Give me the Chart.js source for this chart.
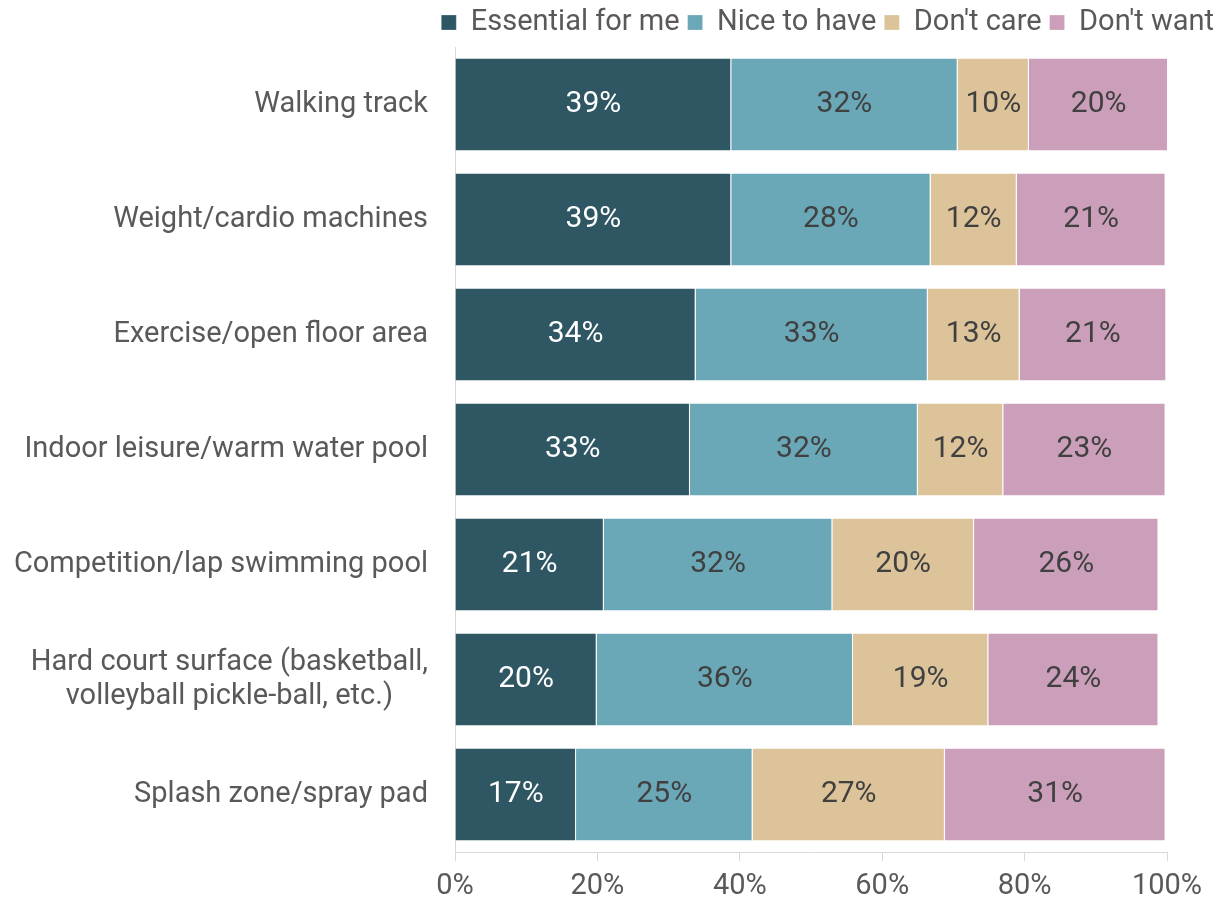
<!DOCTYPE html>
<html>
<head>
<meta charset="utf-8">
<script src="https://cdn.jsdelivr.net/npm/chart.js@4.4.1/dist/chart.umd.min.js"></script>
<style>
  html, body { margin: 0; padding: 0; background: #fff; }
</style>
</head>
<body>
<canvas id="chart" width="1222" height="904"></canvas>
<script>
const categories = [
  'Walking track',
  'Weight/cardio machines',
  'Exercise/open floor area',
  'Indoor leisure/warm water pool',
  'Competition/lap swimming pool',
  ['Hard court surface (basketball,', 'volleyball pickle-ball, etc.)'],
  'Splash zone/spray pad'
];
const seriesNames = ['Essential for me', 'Nice to have', "Don't care", "Don't want"];
const essential = [38.8, 38.8, 33.8, 33.0, 20.9, 19.9, 17.0];
const niceToHave = [31.8, 28.0, 32.6, 32.0, 32.1, 36.0, 24.8];
const dontCare = [10.0, 12.1, 12.9, 12.0, 19.9, 19.0, 27.0];
const dontWant = [19.6, 20.9, 20.6, 22.8, 25.9, 23.9, 31.0];
const xTicks = [0, 20, 40, 60, 80, 100];

const colors = ['#2e5763', '#6aa7b7', '#dcc399', '#cb9fba'];
const textGrey = '#595959';
const padRight = 55;

Chart.defaults.font.family = 'Roboto';
Chart.defaults.color = textGrey;

// bar value labels + the category names (drawn by hand so the 2-line one is centred)
const labelPlugin = {
  id: 'labelPlugin',
  afterLayout(chart) {
    // legend hangs out past the plot, to the canvas edge
    chart.legend.left += padRight;
    chart.legend.right += padRight;
  },
  afterDatasetsDraw(chart) {
    const ctx = chart.ctx;
    ctx.save();
    ctx.textAlign = 'center';
    ctx.textBaseline = 'middle';
    ctx.font = '30px Roboto';
    chart.data.datasets.forEach((ds, i) => {
      chart.getDatasetMeta(i).data.forEach((bar, j) => {
        ctx.fillStyle = i === 0 ? '#ffffff' : '#404040';
        ctx.fillText(Math.round(ds.data[j]) + '%', (bar.x + bar.base) / 2, bar.y);
      });
    });

    const yScale = chart.scales.y;
    ctx.font = '29px Roboto';
    ctx.fillStyle = textGrey;
    categories.forEach((lab, j) => {
      const lines = [].concat(lab);
      const w = Math.max(...lines.map(l => ctx.measureText(l).width));
      const cx = yScale.right - 27 - w / 2;
      const cy = yScale.getPixelForValue(j);
      lines.forEach((l, k) => {
        ctx.fillText(l, cx, cy + (k - (lines.length - 1) / 2) * 34);
      });
    });
    ctx.restore();
  }
};

const seriesData = [essential, niceToHave, dontCare, dontWant];

new Chart(document.getElementById('chart').getContext('2d'), {
  type: 'bar',
  data: {
    labels: categories,
    datasets: seriesNames.map((name, i) => ({
      label: name,
      data: seriesData[i],
      backgroundColor: colors[i],
      borderColor: '#ffffff',
      borderWidth: { right: 1 },
      borderSkipped: false,
      barPercentage: 0.8,
      categoryPercentage: 1.0
    }))
  },
  options: {
    indexAxis: 'y',
    responsive: false,
    animation: false,
    layout: { padding: { left: 0, right: padRight, top: 0, bottom: 0 } },
    plugins: {
      legend: {
        position: 'top',
        align: 'end',
        labels: {
          boxWidth: 15,
          boxHeight: 15,
          padding: 8,
          color: textGrey,
          font: { size: 29 }
        }
      },
      tooltip: { enabled: false }
    },
    scales: {
      x: {
        stacked: true,
        min: 0,
        max: 100,
        afterBuildTicks: (scale) => { scale.ticks = xTicks.map(v => ({ value: v })); },
        afterFit: (scale) => { scale.height = 52; },
        ticks: {
          callback: (v) => v + '%',
          color: textGrey,
          padding: 8,
          font: { size: 29 }
        },
        grid: { drawOnChartArea: false, tickLength: 9, color: '#d9d9d9' },
        border: { color: '#d9d9d9' }
      },
      y: {
        stacked: true,
        ticks: { display: false },
        grid: { display: false },
        border: { color: '#d9d9d9' },
        afterFit: (scale) => { scale.width = 455; }
      }
    }
  },
  plugins: [labelPlugin]
});
</script>
</body>
</html>
